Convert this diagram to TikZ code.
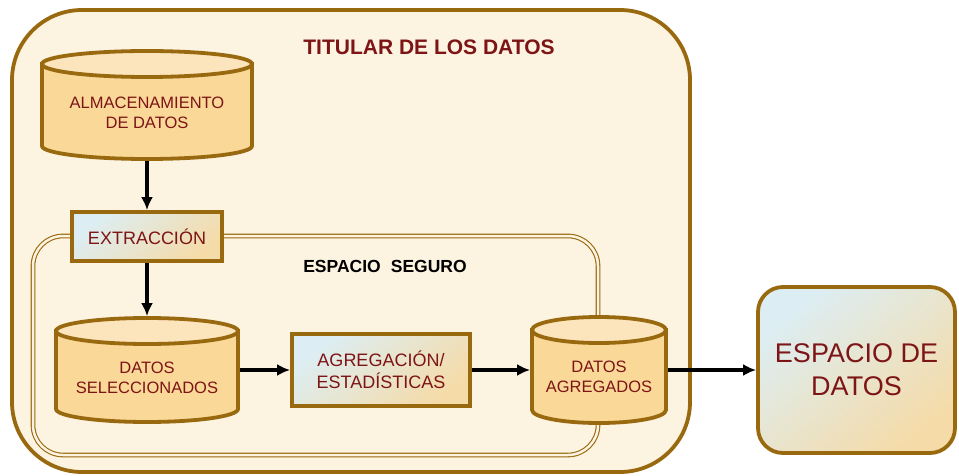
\documentclass[tikz,border=0pt]{standalone}
\usepackage{fontspec}
\setmainfont{Liberation Sans}
\usetikzlibrary{arrows.meta}
\definecolor{brd}{HTML}{99690F}
\definecolor{cream}{HTML}{FDF3E1}
\definecolor{cylbody}{HTML}{FAD898}
\definecolor{cyltop}{HTML}{FCE4BC}
\definecolor{boxblue}{HTML}{DCEEF4}
\definecolor{boxorange}{HTML}{F5DBA8}
\definecolor{tred}{HTML}{7D1416}
\begin{document}
\begin{tikzpicture}[x=1pt,y=1pt,
  frame/.style={draw=brd, line width=3.8pt},
  gbox/.style={frame, top color=boxblue, middle color=boxblue, bottom color=boxorange, shading angle=40, inner sep=0pt},
  cyltext/.style={text=tred, align=center, font=\fontsize{16.5}{20}\selectfont},
  boxtext/.style={text=tred, align=center, font=\fontsize{18}{21.5}\selectfont},
  cylnode/.style={inner sep=0pt, outer sep=1.9pt},
  flow/.style={-{Latex[length=13pt,width=12pt]}, line width=3.2pt, draw=black}]
\useasboundingbox (0,0) rectangle (959,-476);
\fill[white] (0,0) rectangle (959,-476);
% outer container
\draw[frame, fill=cream, rounded corners=70pt] (12,-10) rectangle (690,-472);
% secure space (double line)
\draw[brd, double=cream, double distance=2.5pt, line width=1.1pt, rounded corners=30pt] (33,-236) rectangle (598,-455);
% titles
\node[font=\bfseries\fontsize{21}{25}\selectfont, text=tred] (title) at (429,-47) {TITULAR DE LOS DATOS};
\node[font=\bfseries\fontsize{17.5}{21}\selectfont] (secure) at (385,-266) {ESPACIO\hspace{0.3em} SEGURO};
% cylinder 1
\draw[frame, fill=cylbody] (42,-64) -- (42,-146) arc[start angle=180,end angle=360,x radius=105,y radius=13] -- (252,-64) -- cycle;
\draw[frame, fill=cyltop] (147,-64) ellipse[x radius=105, y radius=13];
\node[cylnode, minimum width=210pt, minimum height=108pt] (c1) at (147,-105) {};
\node[cyltext] (c1t) at (147,-113) {ALMACENAMIENTO\\DE DATOS};
% cylinder 2
\draw[frame, fill=cylbody] (56,-331) -- (56,-409) arc[start angle=180,end angle=360,x radius=91,y radius=13] -- (238,-331) -- cycle;
\draw[frame, fill=cyltop] (147,-331) ellipse[x radius=91, y radius=13];
\node[cylnode, minimum width=182pt, minimum height=104pt] (c2) at (147,-370) {};
\node[cyltext] (c2t) at (147,-378) {DATOS\\SELECCIONADOS};
% cylinder 3
\draw[frame, fill=cylbody] (532,-330) -- (532,-410) arc[start angle=180,end angle=360,x radius=67,y radius=13] -- (666,-330) -- cycle;
\draw[frame, fill=cyltop] (599,-330) ellipse[x radius=67, y radius=13];
\node[cylnode, minimum width=134pt, minimum height=106pt] (c3) at (599,-370) {};
\node[cyltext] (c3t) at (599,-377) {DATOS\\AGREGADOS};
% boxes
\node[gbox, boxtext, minimum width=150pt, minimum height=49pt] (extr) at (147,-236.5) {EXTRACCIÓN};
\node[gbox, boxtext, minimum width=178pt, minimum height=72pt] (agr) at (381,-370) {AGREGACIÓN/\\ESTADÍSTICAS};
\node[gbox, rounded corners=25pt, text=tred, align=center, font=\fontsize{27}{33}\selectfont, minimum width=197pt, minimum height=166pt] (eds) at (856.5,-370) {ESPACIO DE\\DATOS};
% connectors
\draw[flow] (c1) -- (extr);
\draw[flow] (extr) -- (c2);
\draw[flow] (c2) -- (agr);
\draw[flow] (agr) -- (c3);
\draw[flow] (c3) -- (eds);
\end{tikzpicture}
\end{document}
